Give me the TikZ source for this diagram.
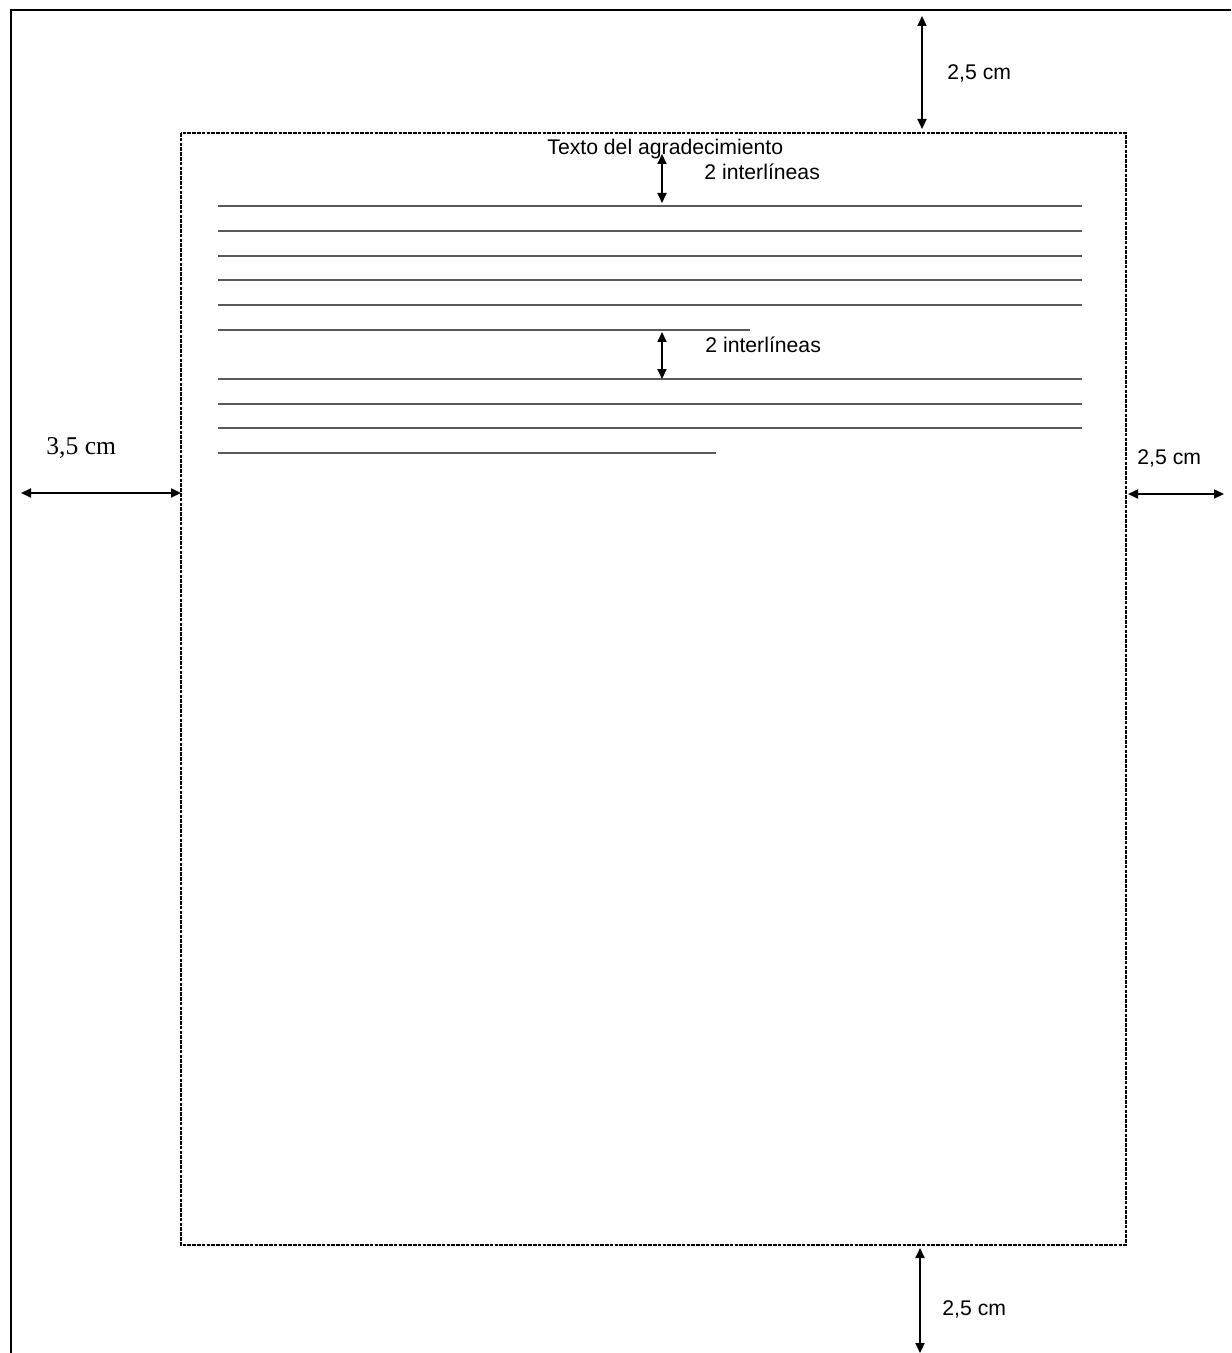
\documentclass[tikz,border=0pt]{standalone}
\usepackage{fontspec}
\setmainfont{Liberation Sans}
\newfontfamily\timesf{Liberation Serif}
\usetikzlibrary{arrows.meta}
\begin{document}
\begin{tikzpicture}[x=0.5pt,y=-0.5pt,
  frame/.style={line width=1pt},
  marginbox/.style={line width=1pt,dash pattern=on 1.8pt off 0.6pt},
  textline/.style={line width=0.75pt,black!65},
  dim/.style={line width=1pt,{Triangle[length=5pt,width=4.5pt]}-{Triangle[length=5pt,width=4.5pt]}},
  lbl/.style={anchor=base west,inner sep=0pt,font=\fontsize{10.6pt}{12pt}\selectfont},
  lblserif/.style={anchor=base west,inner sep=0pt,font=\timesf\fontsize{12.8pt}{14pt}\selectfont}]
\useasboundingbox (0,0) rectangle (1231,1353);
% outer page frame
\coordinate (tl) at (11,10);
\coordinate (tr) at (1231,10);
\coordinate (bl) at (11,1353);
\draw[frame] (tr) -- (tl) -- (bl);
% margin box
\coordinate (m1) at (181,133);
\coordinate (m2) at (1126,1245);
\draw[marginbox] (m1) rectangle (m2);
% text lines
\foreach \y/\xe in {206/1082,231/1082,256/1082,280/1082,305/1082,330/750,379/1082,404/1082,428/1082,453/716}{
  \coordinate (ls) at (218,\y);
  \coordinate (le) at (\xe,\y);
  \draw[textline] (ls) -- (le);
}
% dimension arrows
\coordinate (ta1) at (922,16);
\coordinate (ta2) at (922,129);
\draw[dim] (ta1) -- (ta2);
\coordinate (ba1) at (920,1248);
\coordinate (ba2) at (920,1353);
\draw[dim] (ba1) -- (ba2);
\coordinate (la1) at (21,493);
\coordinate (la2) at (181,493);
\draw[dim] (la1) -- (la2);
\coordinate (ra1) at (1128,494);
\coordinate (ra2) at (1224,494);
\draw[dim] (ra1) -- (ra2);
\coordinate (ia1) at (662,154);
\coordinate (ia2) at (662,203);
\draw[dim] (ia1) -- (ia2);
\coordinate (ib1) at (662,332);
\coordinate (ib2) at (662,379);
\draw[dim] (ib1) -- (ib2);
% labels
\node[lbl] (ttop) at (947,80) {2,5 cm};
\node[lbl] (tbot) at (942,1315) {2,5 cm};
\node[lbl] (tright) at (1137,464) {2,5 cm};
\node[lblserif] (tleft) at (46,454) {3,5 cm};
\node[lbl] (title) at (547,155) {Texto del agradecimiento};
\node[lbl] (int1) at (704,180) {2 interlíneas};
\node[lbl] (int2) at (705,352) {2 interlíneas};
\end{tikzpicture}
\end{document}
